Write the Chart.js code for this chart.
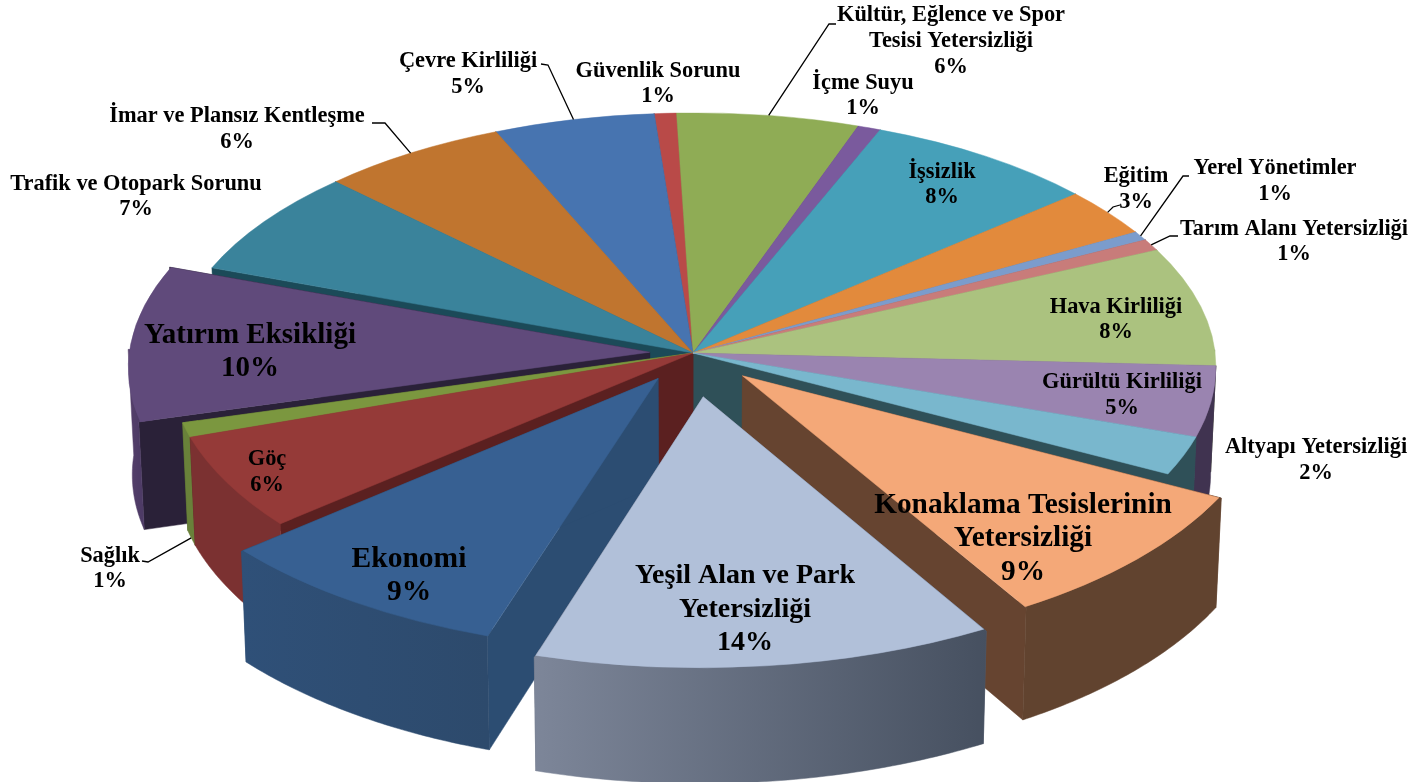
<!DOCTYPE html>
<html lang="tr">
<head>
<meta charset="UTF-8">
<title>Sorunlar</title>
<script src="https://cdn.jsdelivr.net/npm/chart.js"></script>
<style>
  html, body { margin: 0; padding: 0; background: #fff; overflow: hidden; }
  canvas { display: block; }
</style>
</head>
<body>
<canvas id="pie" width="1415" height="782"></canvas>
<script>
// values, clockwise from the top
const categories = ["Güvenlik Sorunu", "Kültür, Eğlence ve Spor Tesisi Yetersizliği", "İçme Suyu", "İşsizlik", "Eğitim",
  "Yerel Yönetimler", "Tarım Alanı Yetersizliği", "Hava Kirliliği", "Gürültü Kirliliği", "Altyapı Yetersizliği",
  "Konaklama Tesislerinin Yetersizliği", "Yeşil Alan ve Park Yetersizliği", "Ekonomi", "Göç", "Sağlık",
  "Yatırım Eksikliği", "Trafik ve Otopark Sorunu", "İmar ve Plansız Kentleşme", "Çevre Kirliliği"];
const values = [0.72, 5.94, 0.75, 7.58, 3.11, 0.58, 0.75, 7.61, 4.47, 2.42, 8.81, 13.42, 8.86, 5.94, 0.92, 9.92, 6.83, 6.11, 5.25];
const percentLabels = ["1%", "6%", "1%", "8%", "3%", "1%", "1%", "8%", "5%", "2%", "9%", "14%", "9%", "6%", "1%", "10%", "7%", "6%", "5%"];

const topColors = ["#b94a48", "#8fac55", "#7a5a9d", "#46a0b9", "#e28a3c", "#7b9ccc", "#c87c7a", "#abc27f", "#9a84b0", "#79b7cd",
  "#f4a878", "#b1c0d9", "#376092", "#953a38", "#7b973f", "#604a7b", "#3a839b", "#c0752f", "#4774b0"];
const sideStart = ["#7c3130", "#5f733a", "#513c69", "#2f6b7c", "#975c28", "#526888", "#855351", "#728155", "#403350", "#2f5058",
  "#61432f", "#7d8699", "#2f5078", "#7b3131", "#69813a", "#56406b", "#275766", "#804e20", "#2f4d75"];
const sideEnd = ["#7c3130", "#5f733a", "#513c69", "#2f6b7c", "#975c28", "#526888", "#855351", "#728155", "#403350", "#2f5058",
  "#61432f", "#465060", "#2d4a6c", "#7b3131", "#69813a", "#4e3b66", "#275766", "#804e20", "#2f4d75"];
const edgeColors = ["#5c2524", "#48572c", "#3d2d4f", "#23505d", "#71451e", "#3e4e66", "#643e3d", "#566140", "#4d4258", "#2f5058",
  "#664430", "#596172", "#2c4d72", "#5b2020", "#4f6128", "#2a2138", "#1b4a58", "#603b18", "#233a58"];

// how far each slice is pulled out of the pie, in hundredths of the radius
const explode = [0, 0, 0, 0, 0, 0, 0, 0, 0, 0, 13, 17.2, 12, 0, 0, 8.3, 0, 0, 0];

// label layout: centre x, centre y of the first line, line gap, font size
const labelLines = [["Güvenlik Sorunu"], ["Kültür, Eğlence ve Spor", "Tesisi Yetersizliği"], ["İçme Suyu"], ["İşsizlik"], ["Eğitim"],
  ["Yerel Yönetimler"], ["Tarım Alanı Yetersizliği"], ["Hava Kirliliği"], ["Gürültü Kirliliği"], ["Altyapı Yetersizliği"],
  ["Konaklama Tesislerinin", "Yetersizliği"], ["Yeşil Alan ve Park", "Yetersizliği"], ["Ekonomi"], ["Göç"], ["Sağlık"],
  ["Yatırım Eksikliği"], ["Trafik ve Otopark Sorunu"], ["İmar ve Plansız Kentleşme"], ["Çevre Kirliliği"]];
const labelLayout = [[658, 71, 25, 22.4], [951, 15, 26, 22.4], [863, 83, 25, 22.4], [942, 172, 25, 22.4], [1136, 176, 26, 22.4],
  [1275, 168, 26, 22.4], [1294, 229, 25, 22.4], [1116, 307, 25, 22.4], [1122, 382, 26, 22.4], [1316, 447, 26, 22.4],
  [1023, 505, 33.5, 29.3], [745, 576, 33.5, 28], [409, 559, 33, 29.5], [267, 459, 26, 22.4], [110, 556, 25, 22.4],
  [250, 336, 33, 29], [136, 184, 25, 22.4], [237, 116, 26, 22.4], [468, 61, 26, 22.4]];
// leader lines: slice index, label end, elbow, height on the wall where it lands
const leaders = [[1, 836, 24, 829, 24, 0], [18, 541, 64, 548, 65, 0], [17, 372, 123, 385, 123, 0], [4, 1120, 205, 1113, 207, 0],
  [5, 1189, 176, 1183, 176, 0], [6, 1178, 236, 1170, 236, 0], [14, 142, 561, 148, 562, 1]];

// ground plane of the pie -> screen
const view = { x: 693, y: 353, rx: 522, ry: 253.7, k: 0.057, depth: 106, shrink: 0.99 };

function project(u, v) {
  const w = 1 - view.k * v;
  return { x: view.x + view.rx * u / w, y: view.y + view.ry * v / w, w: w };
}
function drop(p, w) {
  return { x: view.x + (p.x - view.x) * view.shrink, y: p.y + view.depth / w };
}

// three points (apex and both corners) fix an affine map for each slice, so neighbours meet exactly
function sliceGeometry(el) {
  const s = el.startAngle, e = el.endAngle, mid = (s + e) / 2;
  const off = el.options.offset / 100;
  const pu = off * Math.cos(mid), pv = off * Math.sin(mid);
  const s0 = project(pu, pv);
  const s1 = project(pu + Math.cos(s), pv + Math.sin(s));
  const s2 = project(pu + Math.cos(e), pv + Math.sin(e));
  const o4 = el.options.offset / 4; // ArcElement moves by offset / 4 and grows by the same
  const lx = el.x + Math.cos(mid) * o4, ly = el.y + Math.sin(mid) * o4;
  const r = el.outerRadius + o4;
  const x1 = r * Math.cos(s), y1 = r * Math.sin(s), x2 = r * Math.cos(e), y2 = r * Math.sin(e);
  const det = x1 * y2 - x2 * y1;
  const A = ((s1.x - s0.x) * y2 - (s2.x - s0.x) * y1) / det;
  const B = ((s2.x - s0.x) * x1 - (s1.x - s0.x) * x2) / det;
  const C = ((s1.y - s0.y) * y2 - (s2.y - s0.y) * y1) / det;
  const D = ((s2.y - s0.y) * x1 - (s1.y - s0.y) * x2) / det;
  return {
    s, e, mid, pu, pv, s0, s1, s2,
    matrix: [A, C, B, D, s0.x - A * lx - B * ly, s0.y - C * lx - D * ly],
    at(a, f) {
      const x = r * (f || 1) * Math.cos(a), y = r * (f || 1) * Math.sin(a);
      return { x: s0.x + A * x + B * y, y: s0.y + C * x + D * y, w: project(pu + Math.cos(a), pv + Math.sin(a)).w };
    }
  };
}

function fillPoly(ctx, pts, fill) {
  ctx.beginPath();
  pts.forEach((p, i) => i ? ctx.lineTo(p.x, p.y) : ctx.moveTo(p.x, p.y));
  ctx.closePath();
  ctx.fillStyle = fill;
  ctx.fill();
  ctx.strokeStyle = fill;
  ctx.lineWidth = 0.5;
  ctx.stroke();
}

function drawWalls(ctx, i, g) {
  [g.s1, g.s2].forEach(c => {
    fillPoly(ctx, [g.s0, c, drop(c, c.w), drop(g.s0, g.s0.w)], edgeColors[i]);
  });
  const outer = [], inner = [];
  for (let n = 0; n <= 60; n++) {
    const a = g.s + (g.e - g.s) * n / 60;
    if (Math.sin(a) > -0.02) {
      outer.push(g.at(a));
      inner.push(g.at(a, 0.97)); // tucked under the top face so no seam shows
    }
  }
  if (outer.length < 2) return;
  const bottom = outer.map(p => drop(p, p.w)).reverse();
  const first = outer[0], last = outer[outer.length - 1];
  const grad = ctx.createLinearGradient(Math.min(first.x, last.x), 0, Math.max(first.x, last.x), 0);
  grad.addColorStop(0, sideStart[i]);
  grad.addColorStop(1, sideEnd[i]);
  fillPoly(ctx, [first].concat(inner, [last], bottom), grad);
}

const pie3d = {
  id: "pie3d",
  beforeDatasetDraw(chart, args) {
    const ctx = chart.ctx, arcs = args.meta.data;
    const geo = arcs.map(sliceGeometry);
    const order = arcs.map((_, i) => i).sort((a, b) =>
      (geo[a].pv + Math.sin(geo[a].mid)) - (geo[b].pv + Math.sin(geo[b].mid)));
    order.forEach(i => drawWalls(ctx, i, geo[i]));
    order.forEach(i => {
      ctx.save();
      ctx.transform.apply(ctx, geo[i].matrix);
      arcs[i].draw(ctx);
      ctx.restore();
    });
    chart.$geo = geo;
    return false;
  },
  afterDraw(chart) {
    const ctx = chart.ctx, geo = chart.$geo;
    ctx.save();
    ctx.strokeStyle = "#000";
    ctx.lineWidth = 1.3;
    leaders.forEach(l => {
      const g = geo[l[0]];
      let end = g.at(g.mid);
      if (l[5]) end = drop(end, end.w);
      ctx.beginPath();
      ctx.moveTo(l[1], l[2]);
      ctx.lineTo(l[3], l[4]);
      ctx.lineTo(end.x, end.y);
      ctx.stroke();
    });
    ctx.fillStyle = "#000";
    ctx.textAlign = "center";
    ctx.textBaseline = "middle";
    labelLines.forEach((lines, i) => {
      const [x, y, gap, size] = labelLayout[i];
      ctx.font = "bold " + size + "px 'Liberation Serif'";
      lines.concat(percentLabels[i]).forEach((t, n) => ctx.fillText(t, x, y + gap * n));
    });
    ctx.restore();
  }
};

new Chart(document.getElementById("pie"), {
  type: "pie",
  data: {
    labels: categories,
    datasets: [{
      data: values,
      backgroundColor: topColors,
      borderColor: topColors,
      borderWidth: 0.5,
      offset: explode
    }]
  },
  options: {
    responsive: false,
    animation: false,
    rotation: -4.5,
    plugins: { legend: { display: false }, tooltip: { enabled: false } }
  },
  plugins: [pie3d]
});
</script>
</body>
</html>
